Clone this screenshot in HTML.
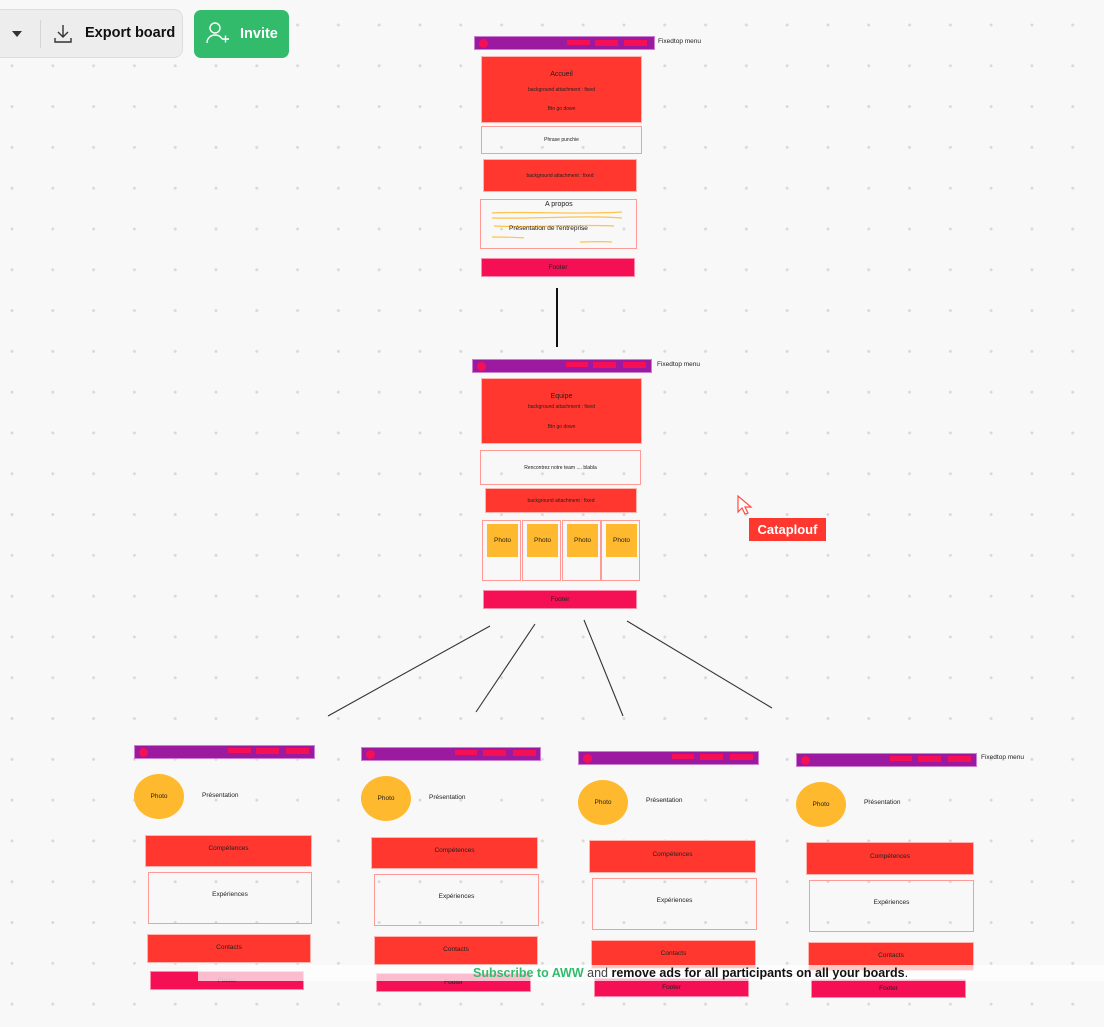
<!DOCTYPE html>
<html><head><meta charset="utf-8"><style>
*{margin:0;padding:0;box-sizing:border-box}
body{width:1104px;height:1027px;overflow:hidden;position:relative;background:#f8f8f8;font-family:"Liberation Sans",sans-serif;
background-image:radial-gradient(circle at center,#d9d9d9 0,#d9d9d9 1.2px,transparent 1.8px);background-size:40.8px 40.8px;background-position:-8.4px 4.6px}
.a{position:absolute}
.r{position:absolute;background:#ff372e;border:1px solid #ffb4b0;display:flex;flex-direction:column;align-items:center;justify-content:center;color:#222;font-size:5px}
.w{position:absolute;border:1.5px solid #ff9a96;background:transparent;display:flex;align-items:center;justify-content:center;color:#222;font-size:5px}
.f{position:absolute;background:#f50f54;border:1px solid #ff8aa9;color:#222;font-size:6.5px;display:flex;align-items:center;justify-content:center}
.m{position:absolute;height:14px;background:#9c1aa0;border:1px solid #cc7fd0}
.m i{position:absolute;background:#f50f54}
.m b{position:absolute;left:4px;top:2px;width:9px;height:9px;border-radius:50%;background:#f50f54}
.lbl{position:absolute;font-size:6.5px;color:#222}
.ph{position:absolute;width:50px;height:45px;border-radius:50%;background:#ffb92e;font-size:6.5px;color:#222;display:flex;align-items:center;justify-content:center}
.pt{position:absolute;font-size:6.5px;color:#222}
.cell{position:absolute;border:1.5px solid #ff9a96;width:39px;height:61px}
.cell div{position:absolute;left:4px;top:3px;width:31px;height:33px;background:#ffb92e;font-size:6.5px;color:#222;display:flex;align-items:center;justify-content:center}
</style></head><body>

<div class="a" style="left:-10px;top:9px;width:193px;height:49px;background:#ededed;border:1px solid #ddd;border-radius:9px"></div>
<div class="a" style="left:12px;top:31px;width:0;height:0;border-left:5px solid transparent;border-right:5px solid transparent;border-top:6px solid #333"></div>
<div class="a" style="left:40px;top:20px;width:1px;height:28px;background:#d6d6d6"></div>
<svg class="a" style="left:54px;top:24px" width="18" height="20" viewBox="0 0 18 20"><path d="M9 1v12M4 8l5 5 5-5M1 14v4h16v-4" fill="none" stroke="#333" stroke-width="1.4"/></svg>
<div class="a" style="left:85px;top:25px;font-size:14.5px;font-weight:bold;color:#111">Export board</div>
<div class="a" style="left:194px;top:10px;width:95px;height:48px;background:#33bb6c;border-radius:7px"></div>
<svg class="a" style="left:206px;top:21px" width="24" height="24" viewBox="0 0 24 24"><circle cx="9" cy="7" r="5" fill="none" stroke="#fff" stroke-width="1.4"/><path d="M1 22c0-5 4-8 8-8s6 2 7 4M16 18h7M19.5 14.5v7" fill="none" stroke="#fff" stroke-width="1.4"/></svg>
<div class="a" style="left:240px;top:26px;font-size:14.5px;font-weight:bold;color:#fff">Invite</div>

<div class="m" style="left:474px;top:36px;width:181px"><b></b><i style="left:92px;top:3px;width:23px;height:5px"></i><i style="left:120px;top:3px;width:23px;height:6px"></i><i style="left:149px;top:3px;width:23px;height:6px"></i></div>
<div class="lbl" style="left:658px;top:38px">Fixedtop menu</div>
<div class="r" style="left:481px;top:56px;width:161px;height:67px"><div style="font-size:7px;margin-bottom:9px;margin-top:4px">Accueil</div><div style="margin-bottom:13px">background attachment : fixed</div><div>Btn go down</div></div>
<div class="w" style="left:481px;top:126px;width:161px;height:28px">Phrase punchie</div>
<div class="r" style="left:483px;top:159px;width:154px;height:33px">background attachment : fixed</div>
<div class="w" style="left:480px;top:199px;width:157px;height:50px"></div>
<svg class="a" style="left:480px;top:199px" width="160" height="50"><g fill="none" stroke="#ffc24a" stroke-width="1.2"><path d="M12 14c40-2 80 2 130-1"/><path d="M12 19c50 1 90-3 130 0"/><path d="M14 27c40 2 80-2 120 0"/><path d="M12 38c10 0 20 0 32 1"/><path d="M100 43c10 0 20-1 32 0"/></g></svg>
<div class="lbl" style="left:545px;top:201px;font-size:7px">A propos</div>
<div class="lbl" style="left:509px;top:225px;font-size:6.5px">Présentation de l'entreprise</div>
<div class="f" style="left:481px;top:258px;width:154px;height:19px">Footer</div>

<div class="a" style="left:556px;top:288px;width:2px;height:59px;background:#111"></div>

<div class="m" style="left:472px;top:359px;width:180px"><b></b><i style="left:93px;top:2px;width:22px;height:5px"></i><i style="left:120px;top:2px;width:23px;height:6px"></i><i style="left:150px;top:2px;width:23px;height:6px"></i></div>
<div class="lbl" style="left:657px;top:361px">Fixedtop menu</div>
<div class="r" style="left:481px;top:378px;width:161px;height:66px"><div style="font-size:7px;margin-bottom:4px">Equipe</div><div style="margin-bottom:14px">background attachment : fixed</div><div>Btn go down</div></div>
<div class="w" style="left:480px;top:450px;width:161px;height:35px">Rencontrez notre team .... blabla</div>
<div class="r" style="left:485px;top:488px;width:152px;height:25px">background attachment : fixed</div>
<div class="cell" style="left:482px;top:520px"><div>Photo</div></div>
<div class="cell" style="left:522px;top:520px"><div>Photo</div></div>
<div class="cell" style="left:562px;top:520px"><div>Photo</div></div>
<div class="cell" style="left:601px;top:520px"><div>Photo</div></div>
<div class="f" style="left:483px;top:590px;width:154px;height:19px">Footer</div>

<svg class="a" style="left:736px;top:494px" width="20" height="24"><path d="M2 2l0 16 4-4 3 6 3-1-3-6 6 0z" fill="#fff" stroke="#ff4a44" stroke-width="1.2"/></svg>
<div class="a" style="left:749px;top:518px;width:77px;height:23px;background:#ff372e;color:#fff;font-size:13px;font-weight:bold;display:flex;align-items:center;justify-content:center">Cataplouf</div>

<svg class="a" style="left:0;top:0" width="1104" height="1027"><g stroke="#333" stroke-width="1.1"><line x1="490" y1="626" x2="328" y2="716"/><line x1="535" y1="624" x2="476" y2="712"/><line x1="584" y1="620" x2="623" y2="716"/><line x1="627" y1="621" x2="772" y2="708"/></g></svg>

<div class="m" style="left:134px;top:745px;width:181px"><b></b><i style="left:93px;top:2px;width:23px;height:5px"></i><i style="left:121px;top:2px;width:23px;height:6px"></i><i style="left:151px;top:2px;width:23px;height:6px"></i></div>
<div class="ph" style="left:134px;top:774px">Photo</div><div class="pt" style="left:202px;top:792px">Présentation</div>
<div class="r" style="left:145px;top:835px;width:167px;height:32px;justify-content:flex-start;padding-top:9px;font-size:6.5px">Compétences</div>
<div class="w" style="left:148px;top:872px;width:164px;height:52px;align-items:flex-start;padding-top:18px;font-size:6.5px">Expériences</div>
<div class="r" style="left:147px;top:934px;width:164px;height:29px;justify-content:flex-start;padding-top:9px;font-size:6.5px">Contacts</div>
<div class="f" style="left:150px;top:971px;width:154px;height:19px">Footer</div>

<div class="m" style="left:361px;top:747px;width:180px"><b></b><i style="left:93px;top:2px;width:22px;height:5px"></i><i style="left:121px;top:2px;width:23px;height:6px"></i><i style="left:151px;top:2px;width:23px;height:6px"></i></div>
<div class="ph" style="left:361px;top:776px">Photo</div><div class="pt" style="left:429px;top:794px">Présentation</div>
<div class="r" style="left:371px;top:837px;width:167px;height:32px;justify-content:flex-start;padding-top:9px;font-size:6.5px">Compétences</div>
<div class="w" style="left:374px;top:874px;width:165px;height:52px;align-items:flex-start;padding-top:18px;font-size:6.5px">Expériences</div>
<div class="r" style="left:374px;top:936px;width:164px;height:29px;justify-content:flex-start;padding-top:9px;font-size:6.5px">Contacts</div>
<div class="f" style="left:376px;top:973px;width:155px;height:19px">Footer</div>

<div class="m" style="left:578px;top:751px;width:181px"><b></b><i style="left:93px;top:2px;width:22px;height:5px"></i><i style="left:121px;top:2px;width:23px;height:6px"></i><i style="left:151px;top:2px;width:23px;height:6px"></i></div>
<div class="ph" style="left:578px;top:780px">Photo</div><div class="pt" style="left:646px;top:797px">Présentation</div>
<div class="r" style="left:589px;top:840px;width:167px;height:33px;justify-content:flex-start;padding-top:10px;font-size:6.5px">Compétences</div>
<div class="w" style="left:592px;top:878px;width:165px;height:52px;align-items:flex-start;padding-top:18px;font-size:6.5px">Expériences</div>
<div class="r" style="left:591px;top:940px;width:165px;height:29px;justify-content:flex-start;padding-top:9px;font-size:6.5px">Contacts</div>
<div class="f" style="left:594px;top:978px;width:155px;height:19px">Footer</div>

<div class="m" style="left:796px;top:753px;width:181px"><b></b><i style="left:93px;top:2px;width:22px;height:5px"></i><i style="left:121px;top:2px;width:23px;height:6px"></i><i style="left:151px;top:2px;width:23px;height:6px"></i></div>
<div class="lbl" style="left:981px;top:754px">Fixedtop menu</div>
<div class="ph" style="left:796px;top:782px">Photo</div><div class="pt" style="left:864px;top:799px">Présentation</div>
<div class="r" style="left:806px;top:842px;width:168px;height:33px;justify-content:flex-start;padding-top:10px;font-size:6.5px">Compétences</div>
<div class="w" style="left:809px;top:880px;width:165px;height:52px;align-items:flex-start;padding-top:18px;font-size:6.5px">Expériences</div>
<div class="r" style="left:808px;top:942px;width:166px;height:29px;justify-content:flex-start;padding-top:9px;font-size:6.5px">Contacts</div>
<div class="f" style="left:811px;top:979px;width:155px;height:19px">Footer</div>

<div class="a" style="left:198px;top:965px;width:906px;height:16px;background:rgba(255,255,255,0.72)"></div>
<div class="a" style="left:473px;top:965px;font-size:12.5px;line-height:16px;color:#111;white-space:nowrap"><b style="color:#33bb6c">Subscribe to AWW</b> <span style="color:#444">and</span> <b>remove ads for all participants on all your boards</b>.</div>
</body></html>
